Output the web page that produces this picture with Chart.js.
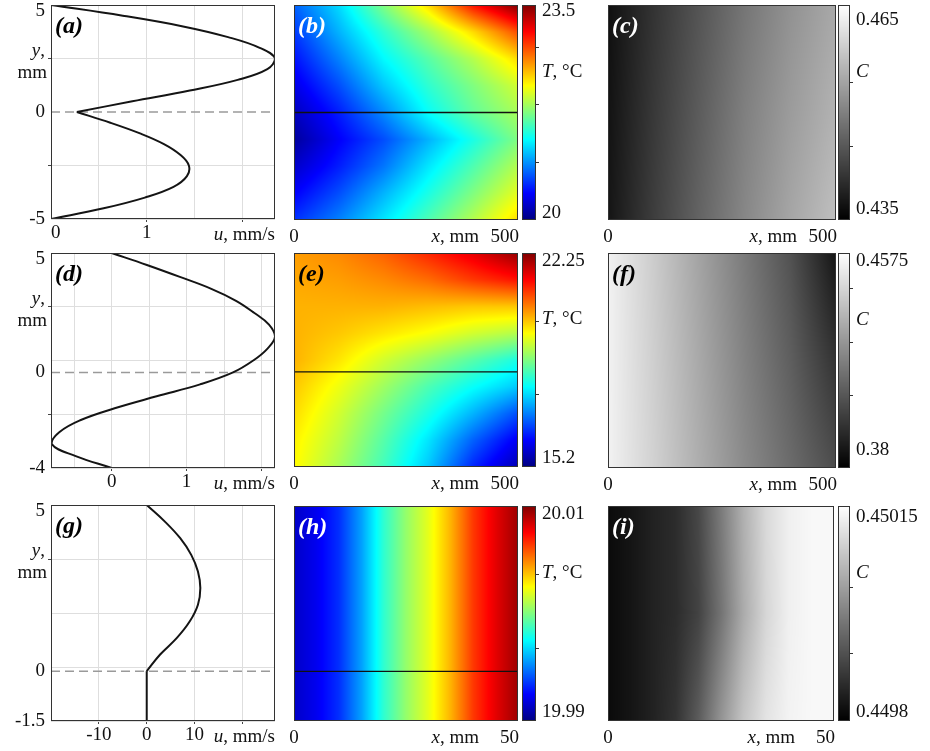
<!DOCTYPE html>
<html>
<head>
<meta charset="utf-8">
<script src="https://cdn.jsdelivr.net/npm/chart.js@4.4.1/dist/chart.umd.min.js"></script>
<style>
html, body { margin: 0; padding: 0; background: #fff; }
#page { position: relative; width: 930px; height: 751px; overflow: hidden; background: #fff; }
#page canvas { position: absolute; }
</style>
</head>
<body>
<div id="page"></div>
<script>
// ---- velocity profiles u(y), mm/s vs mm ----
const yA_up = [5, 4.5, 4, 3.5, 3, 2.5, 2, 1.5, 1, 0.5, 0];
const uA_up = [0, 0.75, 1.38, 1.85, 2.18, 2.34, 2.26, 1.95, 1.45, 0.85, 0.27];
const yA_low = [0, -0.5, -1, -1.5, -2, -2.5, -3, -3.5, -4, -4.5, -5];
const uA_low = [0.27, 0.62, 0.93, 1.18, 1.35, 1.44, 1.42, 1.28, 0.98, 0.55, 0];

const yD = [5, 4.5, 4, 3.5, 3, 2.5, 2, 1.5, 1, 0.5, 0, -0.5, -1, -1.5, -2, -2.5, -3, -3.5, -4];
const uD = [0, 0.47, 0.91, 1.33, 1.66, 1.90, 2.10, 2.18, 2.08, 1.89, 1.62, 1.18, 0.60, 0.04, -0.42, -0.70, -0.80, -0.48, 0];

const yG_up = [5, 4.5, 4, 3.5, 3, 2.5, 2, 1.5, 1, 0.5, 0];
const uG_up = [0, 3.8, 7.0, 9.3, 10.7, 11.2, 10.7, 9.0, 6.3, 2.8, 0];
const yG_low = [0, -1.5];
const uG_low = [0, 0];

// ---- temperature fields T(x, y), rows from top to bottom ----
const xsLong = [0, 100, 200, 300, 400, 500];
const xsShort = [0, 5, 10, 15, 20, 25, 30, 35, 40, 45, 50];

const ysB = [5, 3.75, 2.5, 1.25, 0, -1.25, -2.5, -3.75, -5];
const tempB = [
  [20.77, 21.19, 21.75, 22.31, 23.01, 23.50],
  [20.63, 21.05, 21.47, 21.87, 22.31, 22.80],
  [20.49, 20.88, 21.30, 21.61, 21.93, 22.31],
  [20.35, 20.70, 21.12, 21.47, 21.75, 22.03],
  [20.21, 20.53, 20.91, 21.33, 21.65, 21.89],
  [20.10, 20.42, 20.70, 21.05, 21.40, 21.75],
  [20.25, 20.53, 20.84, 21.23, 21.58, 21.93],
  [20.42, 20.70, 21.05, 21.40, 21.75, 22.10],
  [20.60, 20.88, 21.23, 21.58, 21.93, 22.31]
];

const ysE = [5, 3.875, 2.75, 1.625, 0.5, -0.625, -1.75, -2.875, -4];
const tempE = [
  [20.28, 20.42, 20.70, 21.12, 21.55, 22.11],
  [20.21, 20.28, 20.42, 20.63, 20.98, 21.26],
  [20.14, 20.14, 20.14, 20.06, 19.99, 19.99],
  [20.14, 19.99, 19.78, 19.57, 19.29, 19.08],
  [20.14, 19.78, 19.29, 18.87, 18.44, 18.02],
  [19.99, 19.50, 18.94, 18.37, 17.88, 17.46],
  [19.85, 19.29, 18.65, 18.02, 17.32, 16.61],
  [19.71, 19.15, 18.44, 17.67, 16.75, 15.98],
  [19.64, 19.01, 18.30, 17.46, 16.33, 15.55]
];

const ysH = [5, -1.5];
const tempH_row = [19.9914, 19.9922, 19.9934, 19.9956, 19.9984, 20.0004, 20.0020, 20.0040, 20.0064, 20.0080, 20.0094];
const tempH = [tempH_row, tempH_row];

// ---- concentration fields C(x, y) ----
const ysC = [5, 0, -5];
const concC = [
  [0.4368, 0.4410, 0.4449, 0.4488, 0.4521, 0.4548],
  [0.4371, 0.4416, 0.4458, 0.4500, 0.4533, 0.4560],
  [0.4374, 0.4422, 0.4467, 0.4509, 0.4545, 0.4575]
];
const ysF = [5, 0.5, -4];
const concF = [
  [0.4536, 0.4420, 0.4296, 0.4172, 0.4048, 0.3862],
  [0.4536, 0.4428, 0.4312, 0.4195, 0.4087, 0.3955],
  [0.4536, 0.4436, 0.4327, 0.4219, 0.4126, 0.4033]
];
const ysI = [5, 1.75, -1.5];
const concI = [
  [0.449814, 0.449828, 0.449846, 0.449860, 0.449898, 0.449968, 0.450042, 0.450098, 0.450129, 0.450140, 0.450140],
  [0.449814, 0.449828, 0.449846, 0.449860, 0.449891, 0.449958, 0.450035, 0.450094, 0.450129, 0.450140, 0.450140],
  [0.449814, 0.449828, 0.449846, 0.449870, 0.449926, 0.450003, 0.450070, 0.450112, 0.450133, 0.450140, 0.450140]
];

// ---- colour bar ranges, tick marks and end labels ----
const cbRangeB = [20, 23.5], cbTicksB = [20.94, 21.89, 22.82], cbLabelsB = ['23.5', '20'];
const cbRangeE = [15.2, 22.25], cbTicksE = [17.6, 20.01], cbLabelsE = ['22.25', '15.2'];
const cbRangeH = [19.99, 20.01], cbTicksH = [19.9968, 20.0037], cbLabelsH = ['20.01', '19.99'];
const cbRangeC = [0.435, 0.465], cbTicksC = [0.4453, 0.4543], cbLabelsC = ['0.465', '0.435'];
const cbRangeF = [0.38, 0.4575], cbTicksF = [0.4063, 0.4254, 0.4449], cbLabelsF = ['0.4575', '0.38'];
const cbRangeI = [0.4498, 0.45015], cbTicksI = [0.449911, 0.450018], cbLabelsI = ['0.45015', '0.4498'];

const SERIF = "'Liberation Serif', 'Times New Roman', Times, serif";
Chart.defaults.font.family = SERIF;
Chart.defaults.font.size = 19;
Chart.defaults.color = '#111';

const PAD = {l: 51, t: 15, r: 10, b: 34};
const PADF = {l: 12, t: 15, r: 100, b: 34};

function F(size, style, weight) {
  return [style || '', weight || '', size + 'px', SERIF].join(' ').trim();
}

function clamp(v) { return v < 0 ? 0 : (v > 1 ? 1 : v); }

function jet(t) {
  t = clamp(t);
  const f = k => Math.round(255 * clamp(1.5 - Math.abs(4 * t - k)));
  return [f(3), f(2), f(1)];
}

function gray(t) {
  const g = Math.round(255 * clamp(t));
  return [g, g, g];
}

function bilinear(xs, ys, grid, x, y) {
  let i = 0;
  while (i < xs.length - 2 && x > xs[i + 1]) i++;
  let j = 0;
  while (j < ys.length - 2 && y < ys[j + 1]) j++;
  const fx = clamp((x - xs[i]) / (xs[i + 1] - xs[i]));
  const fy = clamp((y - ys[j]) / (ys[j + 1] - ys[j]));
  const a = grid[j][i] * (1 - fx) + grid[j][i + 1] * fx;
  const b = grid[j + 1][i] * (1 - fx) + grid[j + 1][i + 1] * fx;
  return a * (1 - fy) + b * fy;
}

function drawParts(ctx, parts, x, y, align) {
  let w = 0;
  parts.forEach(([s, f]) => { ctx.font = f; w += ctx.measureText(s).width; });
  let cx = align === 'right' ? x - w : (align === 'center' ? x - w / 2 : x);
  ctx.textAlign = 'left';
  parts.forEach(([s, f]) => {
    ctx.font = f;
    ctx.fillText(s, cx, y);
    cx += ctx.measureText(s).width;
  });
}

function makeCanvas(left, top, width, height) {
  const c = document.createElement('canvas');
  c.width = width;
  c.height = height;
  c.style.left = left + 'px';
  c.style.top = top + 'px';
  c.style.width = width + 'px';
  c.style.height = height + 'px';
  document.getElementById('page').appendChild(c);
  return c;
}

function profileChart(p) {
  const [L, T, W, H] = p.area;
  const cv = makeCanvas(L - PAD.l, T - PAD.t, W + PAD.l + PAD.r, H + PAD.t + PAD.b);

  const datasets = p.curves.map(c => ({
    data: c.u.map((v, k) => ({x: v, y: c.y[k]})),
    showLine: true,
    borderColor: '#141414',
    borderWidth: 2,
    pointRadius: 0,
    tension: 0.4
  }));
  datasets.push({
    data: [{x: p.xMin, y: 0}, {x: p.xMax, y: 0}],
    showLine: true,
    borderColor: '#9a9a9a',
    borderWidth: 1.5,
    borderDash: [9, 5],
    pointRadius: 0
  });

  const textPlugin = {
    id: 'profileText',
    afterDraw(chart) {
      const {ctx, chartArea: a, scales} = chart;
      ctx.save();
      ctx.strokeStyle = '#333';
      ctx.lineWidth = 1;
      ctx.strokeRect(a.left + 0.5, a.top + 0.5, a.right - a.left - 1, a.bottom - a.top - 1);
      ctx.fillStyle = '#111';
      ctx.textBaseline = 'middle';
      ctx.textAlign = 'right';
      ctx.font = F(19);
      ctx.fillText(p.yTop, a.left - 6, a.top + 6);
      ctx.textBaseline = 'alphabetic';
      const ty = scales.y.getPixelForValue(p.unitTick);
      drawParts(ctx, [['y', F(19, 'italic')], [',', F(19)]], a.left - 6, ty - 3, 'right');
      drawParts(ctx, [['mm', F(19)]], a.left - 4, ty + 19, 'right');
      drawParts(ctx, [['u', F(19, 'italic')], [', mm/s', F(19)]], a.right, a.bottom + 21, 'right');
      ctx.fillStyle = '#000';
      ctx.textAlign = 'left';
      ctx.font = F(24, 'italic', 'bold');
      ctx.fillText(p.label, a.left + 4, a.top + 28);
      ctx.restore();
    }
  };

  new Chart(cv, {
    type: 'scatter',
    data: {datasets},
    options: {
      responsive: false,
      animation: false,
      devicePixelRatio: 1,
      events: [],
      layout: {padding: {top: PAD.t, right: PAD.r, left: 0, bottom: 0}},
      plugins: {legend: {display: false}, tooltip: {enabled: false}},
      scales: {
        x: {
          type: 'linear', min: p.xMin, max: p.xMax,
          afterBuildTicks: s => { s.ticks = p.xTicks.map(v => ({value: v})); },
          afterFit: s => { s.height = PAD.b; s.paddingLeft = 0; s.paddingRight = 0; },
          ticks: {
            autoSkip: false, maxRotation: 0, padding: 0, align: p.xAlign,
            callback: v => p.xLabels.includes(v) ? String(v) : ''
          },
          grid: {
            color: '#dedede', tickLength: 3,
            tickColor: c => (c.tick && p.xMarks.includes(c.tick.value)) ? '#444' : 'rgba(0,0,0,0)'
          },
          border: {display: false}
        },
        y: {
          type: 'linear', min: p.yMin, max: p.yMax,
          afterBuildTicks: s => { s.ticks = p.yTicks.map(v => ({value: v})); },
          afterFit: s => { s.width = PAD.l; s.paddingTop = 0; s.paddingBottom = 0; },
          ticks: {
            autoSkip: false, padding: 3,
            callback: v => p.yLabels.includes(v) ? String(v) : ''
          },
          grid: {
            color: c => (c.tick && c.tick.value === 0) ? 'rgba(0,0,0,0)' : '#dedede',
            tickLength: 3,
            tickColor: c => (c.tick && p.yMarks.includes(c.tick.value)) ? '#444' : 'rgba(0,0,0,0)'
          },
          border: {display: false}
        }
      }
    },
    plugins: [textPlugin]
  });
}

function fieldChart(p) {
  const [L, T, W, H] = p.area;
  const cv = makeCanvas(L - PADF.l, T - PADF.t, W + PADF.l + PADF.r, H + PADF.t + PADF.b);

  const datasets = p.zeroLine ? [{
    data: [{x: 0, y: 0}, {x: p.xMax, y: 0}],
    showLine: true,
    borderColor: '#111',
    borderWidth: 1.3,
    pointRadius: 0
  }] : [];

  const fieldPlugin = {
    id: 'field',
    beforeDatasetsDraw(chart) {
      const {ctx, chartArea: a, scales} = chart;
      const cb = scales.cb;
      const w = Math.round(a.right - a.left), h = Math.round(a.bottom - a.top);
      const off = document.createElement('canvas');
      off.width = w;
      off.height = h;
      const octx = off.getContext('2d');
      const img = octx.createImageData(w, h);
      for (let j = 0; j < h; j++) {
        const yv = scales.y.getValueForPixel(a.top + j + 0.5);
        for (let i = 0; i < w; i++) {
          const xv = scales.x.getValueForPixel(a.left + i + 0.5);
          const v = bilinear(p.xs, p.ys, p.grid, xv, yv);
          const c = p.cmap((v - cb.min) / (cb.max - cb.min));
          const k = (j * w + i) * 4;
          img.data[k] = c[0];
          img.data[k + 1] = c[1];
          img.data[k + 2] = c[2];
          img.data[k + 3] = 255;
        }
      }
      octx.putImageData(img, 0, 0);
      ctx.drawImage(off, a.left, a.top);
    },
    afterDraw(chart) {
      const {ctx, chartArea: a, scales} = chart;
      const cb = scales.cb;
      ctx.save();
      ctx.strokeStyle = '#333';
      ctx.lineWidth = 1;
      ctx.strokeRect(a.left + 0.5, a.top + 0.5, a.right - a.left - 1, a.bottom - a.top - 1);

      // colour bar
      const bx = Math.round(a.right) + p.cbGap;
      for (let py = Math.round(a.top); py < Math.round(a.bottom); py++) {
        const v = cb.getValueForPixel(py + 0.5);
        const c = p.cmap((v - cb.min) / (cb.max - cb.min));
        ctx.fillStyle = 'rgb(' + c.join(',') + ')';
        ctx.fillRect(bx, py, p.cbW, 1);
      }
      ctx.strokeRect(bx + 0.5, a.top + 0.5, p.cbW - 1, a.bottom - a.top - 1);
      ctx.beginPath();
      p.cbTicks.forEach(v => {
        const py = Math.round(cb.getPixelForValue(v)) + 0.5;
        ctx.moveTo(bx + p.cbW, py);
        ctx.lineTo(bx + p.cbW + 3, py);
      });
      ctx.stroke();

      ctx.fillStyle = '#111';
      const lx = bx + p.cbW + 6;
      ctx.textBaseline = 'middle';
      ctx.textAlign = 'left';
      ctx.font = F(19);
      ctx.fillText(p.cbLabels[0], lx, cb.getPixelForValue(p.cbRange[1]) + p.cbInset[0]);
      ctx.fillText(p.cbLabels[1], lx, cb.getPixelForValue(p.cbRange[0]) - p.cbInset[1]);
      drawParts(ctx, p.cbTitle, lx, a.top + 0.31 * (a.bottom - a.top), 'left');

      // x axis texts
      ctx.textBaseline = 'alphabetic';
      const by = a.bottom + 22;
      drawParts(ctx, [['0', F(19)]], scales.x.getPixelForValue(0), by, 'center');
      drawParts(ctx, [[String(p.xMax), F(19)]], scales.x.getPixelForValue(p.xMax) + 1, by, 'right');
      drawParts(ctx, [['x', F(19, 'italic')], [', mm', F(19)]], a.right - 39, by, 'right');

      ctx.fillStyle = p.labelColor;
      ctx.textAlign = 'left';
      ctx.font = F(24, 'italic', 'bold');
      ctx.fillText(p.label, a.left + 4, a.top + 28);
      ctx.restore();
    }
  };

  new Chart(cv, {
    type: 'scatter',
    data: {datasets},
    options: {
      responsive: false,
      animation: false,
      devicePixelRatio: 1,
      events: [],
      layout: {padding: {left: PADF.l, top: PADF.t, right: PADF.r, bottom: PADF.b}},
      plugins: {legend: {display: false}, tooltip: {enabled: false}},
      scales: {
        x: {type: 'linear', min: 0, max: p.xMax, display: false},
        y: {type: 'linear', min: p.yMin, max: p.yMax, display: false},
        cb: {type: 'linear', axis: 'y', min: p.cbRange[0], max: p.cbRange[1], display: false}
      }
    },
    plugins: [fieldPlugin]
  });
}

const titleT = [['T', F(19, 'italic')], [', \u00B0C', F(19)]];
const titleC = [['C', F(19, 'italic')]];

// left column
profileChart({
  area: [51, 5, 224, 214], label: '(a)',
  xMin: 0, xMax: 2.34, xTicks: [0, 0.5, 1, 1.5, 2], xLabels: [0, 1], xMarks: [1, 2], xAlign: 'inner',
  yMin: -5, yMax: 5, yTicks: [-5, -2.5, 0, 2.5, 5], yLabels: [-5, 0], yMarks: [2.5, -2.5], yTop: '5', unitTick: 2.5,
  curves: [{u: uA_up, y: yA_up}, {u: uA_low, y: yA_low}]
});
profileChart({
  area: [51, 253, 224, 215], label: '(d)',
  xMin: -0.81, xMax: 2.18, xTicks: [-0.5, 0, 0.5, 1, 1.5, 2], xLabels: [0, 1], xMarks: [0, 1, 2], xAlign: 'center',
  yMin: -4, yMax: 5, yTicks: [-4, -1.75, 0, 0.5, 2.75, 5], yLabels: [-4, 0], yMarks: [2.75, -1.75], yTop: '5', unitTick: 2.75,
  curves: [{u: uD, y: yD}]
});
profileChart({
  area: [51, 505, 224, 216], label: '(g)',
  xMin: -20, xMax: 26.8, xTicks: [-10, 0, 10, 20], xLabels: [-10, 0, 10], xMarks: [-10, 0, 10, 20], xAlign: 'center',
  yMin: -1.5, yMax: 5, yTicks: [-1.5, 0, 0.125, 1.75, 3.375, 5], yLabels: [-1.5, 0], yMarks: [3.375], yTop: '5', unitTick: 3.375,
  curves: [{u: uG_up, y: yG_up}, {u: uG_low, y: yG_low}]
});

// middle column: temperature
fieldChart({
  area: [294, 5, 224, 215], label: '(b)', labelColor: '#fff', zeroLine: true,
  xMax: 500, yMin: -5, yMax: 5, xs: xsLong, ys: ysB, grid: tempB, cmap: jet,
  cbRange: cbRangeB, cbTicks: cbTicksB, cbLabels: cbLabelsB, cbInset: [6, 7], cbTitle: titleT, cbGap: 4, cbW: 14
});
fieldChart({
  area: [294, 253, 224, 214], label: '(e)', labelColor: '#000', zeroLine: true,
  xMax: 500, yMin: -4, yMax: 5, xs: xsLong, ys: ysE, grid: tempE, cmap: jet,
  cbRange: cbRangeE, cbTicks: cbTicksE, cbLabels: cbLabelsE, cbInset: [8, 9], cbTitle: titleT, cbGap: 4, cbW: 14
});
fieldChart({
  area: [294, 506, 224, 215], label: '(h)', labelColor: '#fff', zeroLine: true,
  xMax: 50, yMin: -1.5, yMax: 5, xs: xsShort, ys: ysH, grid: tempH, cmap: jet,
  cbRange: cbRangeH, cbTicks: cbTicksH, cbLabels: cbLabelsH, cbInset: [8, 9], cbTitle: titleT, cbGap: 4, cbW: 14
});

// right column: concentration
fieldChart({
  area: [608, 5, 228, 215], label: '(c)', labelColor: '#fff', zeroLine: false,
  xMax: 500, yMin: -5, yMax: 5, xs: xsLong, ys: ysC, grid: concC, cmap: gray,
  cbRange: cbRangeC, cbTicks: cbTicksC, cbLabels: cbLabelsC, cbInset: [15, 11], cbTitle: titleC, cbGap: 2, cbW: 12
});
fieldChart({
  area: [608, 253, 228, 215], label: '(f)', labelColor: '#000', zeroLine: false,
  xMax: 500, yMin: -4, yMax: 5, xs: xsLong, ys: ysF, grid: concF, cmap: gray,
  cbRange: cbRangeF, cbTicks: cbTicksF, cbLabels: cbLabelsF, cbInset: [8, 18], cbTitle: titleC, cbGap: 2, cbW: 12
});
fieldChart({
  area: [608, 506, 226, 215], label: '(i)', labelColor: '#fff', zeroLine: false,
  xMax: 50, yMin: -1.5, yMax: 5, xs: xsShort, ys: ysI, grid: concI, cmap: gray,
  cbRange: cbRangeI, cbTicks: cbTicksI, cbLabels: cbLabelsI, cbInset: [11, 9], cbTitle: titleC, cbGap: 4, cbW: 12
});
</script>
</body>
</html>
